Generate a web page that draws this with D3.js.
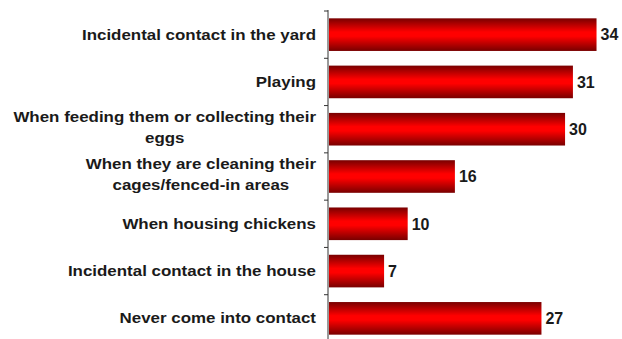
<!DOCTYPE html>
<html>
<head>
<meta charset="utf-8">
<script src="https://cdn.jsdelivr.net/npm/d3@7"></script>
<style>
  html, body { margin: 0; padding: 0; background: #fff; }
  svg { display: block; }
  text { font-family: "Liberation Sans", Arial, sans-serif; font-weight: bold; fill: #1a1a1a; }
</style>
</head>
<body>
<svg id="chart" width="622" height="339"></svg>
<script>
// Where people come into contact with chickens (%)
const categories = [
  ["Incidental contact in the yard"],
  ["Playing"],
  ["When feeding them or collecting their", "eggs"],
  ["When they are cleaning their", "cages/fenced-in areas"],
  ["When housing chickens"],
  ["Incidental contact in the house"],
  ["Never come into contact"]
];
const values = [34, 31, 30, 16, 10, 7, 27];

const width = 622, height = 339;
const margin = { top: 11, right: 14, bottom: -3, left: 328 };

const svg = d3.select("#chart");

// Vertical shading for the cylinder-like bars
const grad = svg.append("defs").append("linearGradient")
  .attr("id", "barShade").attr("x1", 0).attr("y1", 0).attr("x2", 0).attr("y2", 1);
grad.append("stop").attr("offset", "0%").attr("stop-color", "#780000");
grad.append("stop").attr("offset", "42%").attr("stop-color", "#ff0000");
grad.append("stop").attr("offset", "55%").attr("stop-color", "#ff0000");
grad.append("stop").attr("offset", "100%").attr("stop-color", "#780000");

const idx = d3.range(values.length);

const y = d3.scaleBand()
  .domain(idx)
  .range([margin.top, height - margin.bottom])
  .paddingInner(0.31)
  .paddingOuter(0.155);

const x = d3.scaleLinear()
  .domain([0, 35])
  .range([margin.left + 1, margin.left + 1 + 275.4]);

// Bars
svg.append("g").selectAll("rect")
  .data(idx)
  .join("rect")
  .attr("x", x(0))
  .attr("y", i => y(i))
  .attr("width", i => x(values[i]) - x(0))
  .attr("height", y.bandwidth())
  .attr("fill", "url(#barShade)");

// Value labels
svg.append("g").selectAll("text")
  .data(idx)
  .join("text")
  .attr("x", i => x(values[i]) + 4)
  .attr("y", i => y(i) + y.bandwidth() / 2)
  .attr("dy", "0.36em")
  .attr("font-size", 16)
  .text(i => values[i]);

// Category axis: line plus outward ticks at band boundaries
const step = y.step();
const axisG = svg.append("g");
axisG.append("line")
  .attr("x1", margin.left).attr("x2", margin.left)
  .attr("y1", margin.top - 1).attr("y2", height)
  .attr("stroke", "#333").attr("stroke-width", 1);
axisG.selectAll("line.tick")
  .data(d3.range(values.length + 1))
  .join("line")
  .attr("class", "tick")
  .attr("x1", margin.left - 4).attr("x2", margin.left)
  .attr("y1", k => y(0) - (step - y.bandwidth()) / 2 + k * step)
  .attr("y2", k => y(0) - (step - y.bandwidth()) / 2 + k * step)
  .attr("stroke", "#333");

// Category labels: block right-aligned to the axis, lines centred within the block
const labelRight = 316;
const lineH = 21;
const stretch = 1.21;
const labels = svg.append("g");
idx.forEach(i => {
  const lines = categories[i];
  const cy = y(i) + y.bandwidth() / 2 - (lines.length > 1 ? 2 : 0);
  const g = labels.append("g").attr("transform", `translate(${labelRight},0) scale(${stretch},1)`);
  const texts = lines.map((ln, j) => g.append("text")
    .attr("font-size", 14)
    .attr("y", cy + (j - (lines.length - 1) / 2) * lineH)
    .attr("dy", "0.36em")
    .text(ln));
  const w = d3.max(texts, t => t.node().getComputedTextLength());
  texts.forEach(t => t.attr("text-anchor", "middle").attr("x", -w / 2));
});
</script>
</body>
</html>
